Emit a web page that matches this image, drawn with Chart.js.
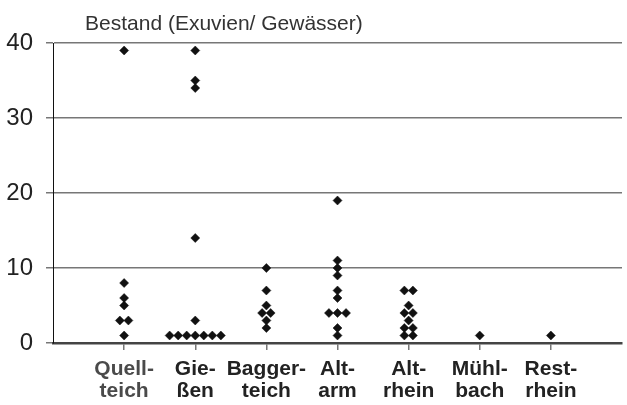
<!DOCTYPE html>
<html>
<head>
<meta charset="utf-8">
<script src="https://cdn.jsdelivr.net/npm/chart.js@4/dist/chart.umd.min.js"></script>
<style>
	body { margin: 0; background: #fff; }
	#wrap { width: 627px; height: 405px; }
</style>
</head>
<body>
<div id="wrap"><canvas id="chart"></canvas></div>
<script>
var titleText = 'Bestand (Exuvien/ Gewässer)';
var categories = [['Quell-', 'teich'], ['Gie-', 'ßen'], ['Bagger-', 'teich'], ['Alt-', 'arm'], ['Alt-', 'rhein'], ['Mühl-', 'bach'], ['Rest-', 'rhein']];
var yTicks = [0, 10, 20, 30, 40];

// counts per water body, one entry per site
var quellteich = [39, 8, 6, 5, 3, 3, 1];
var giessen = [39, 35, 34, 14, 3, 1, 1, 1, 1, 1, 1, 1];
var baggerteich = [10, 7, 5, 4, 4, 3, 2];
var altarm = [19, 11, 10, 9, 7, 6, 4, 4, 4, 2, 1];
var altrhein = [7, 7, 5, 4, 4, 3, 2, 2, 1, 1];
var muehlbach = [1];
var restrhein = [1];

var groups = [quellteich, giessen, baggerteich, altarm, altrhein, muehlbach, restrhein];

// dot plot: equal values sit side by side around the category
var spread = 0.12;
function dotPoints(){
	let pts = [];
	for(let g = 0; g < groups.length; g++){
		let counts = {};
		for(let v of groups[g]){
			counts[v] = (counts[v] || 0) + 1;
		}
		for(let v in counts){
			let n = counts[v];
			for(let i = 0; i < n; i++){
				pts.push({x: g + 1 + (i - (n - 1) / 2) * spread, y: Number(v)});
			}
		}
	}
	return pts;
}

const titlePlugin = {
	id: 'topTitle',
	afterDraw(chart){
		const ctx = chart.ctx;
		ctx.save();
		ctx.font = '21px "Liberation Sans", Arial, sans-serif';
		ctx.fillStyle = '#333';
		ctx.textBaseline = 'alphabetic';
		ctx.textAlign = 'left';
		ctx.fillText(titleText, chart.chartArea.left + 32, 30);
		ctx.restore();
	}
};

const config = {
	type: 'scatter',
	data: {
		datasets: [{
			data: dotPoints(),
			pointStyle: 'rectRot',
			pointRadius: 4.5,
			backgroundColor: '#111',
			borderColor: '#111',
			borderWidth: 0.5
		}]
	},
	options: {
		responsive: true,
		maintainAspectRatio: false,
		animation: false,
		layout: { padding: { top: 43, right: 0, left: 0, bottom: 0 } },
		plugins: {
			legend: { display: false },
			tooltip: { enabled: false }
		},
		scales: {
			x: {
				type: 'linear',
				min: 0,
				max: 8,
				afterBuildTicks: function(scale){
					scale.ticks = categories.map((c, i) => ({value: i + 1}));
				},
				afterFit: function(scale){ scale.height = 62; },
				grid: {
					drawOnChartArea: false,
					drawTicks: true,
					tickLength: 7,
					tickColor: '#777',
					lineWidth: 1.5
				},
				border: { color: '#444', width: 2.5 },
				ticks: {
					autoSkip: false,
					maxRotation: 0,
					padding: 8,
					color: function(ctx){ return ctx.index === 0 ? '#4a4a4a' : '#222'; },
					font: { family: '"Liberation Sans", Arial, sans-serif', size: 21, weight: 'bold', lineHeight: 1.05 },
					callback: function(value){ return categories[value - 1]; }
				}
			},
			y: {
				type: 'linear',
				min: 0,
				max: 40,
				afterBuildTicks: function(scale){
					scale.ticks = yTicks.map(v => ({value: v}));
				},
				afterFit: function(scale){ scale.width = 53; },
				grid: {
					color: '#777',
					lineWidth: 1.5,
					tickLength: 7,
					tickColor: '#777'
				},
				border: { color: '#111', width: 1 },
				ticks: {
					padding: 13,
					color: '#222',
					font: { family: '"Liberation Sans", Arial, sans-serif', size: 24 }
				}
			}
		}
	},
	plugins: [titlePlugin]
};

new Chart(document.getElementById('chart'), config);
</script>
</body>
</html>
